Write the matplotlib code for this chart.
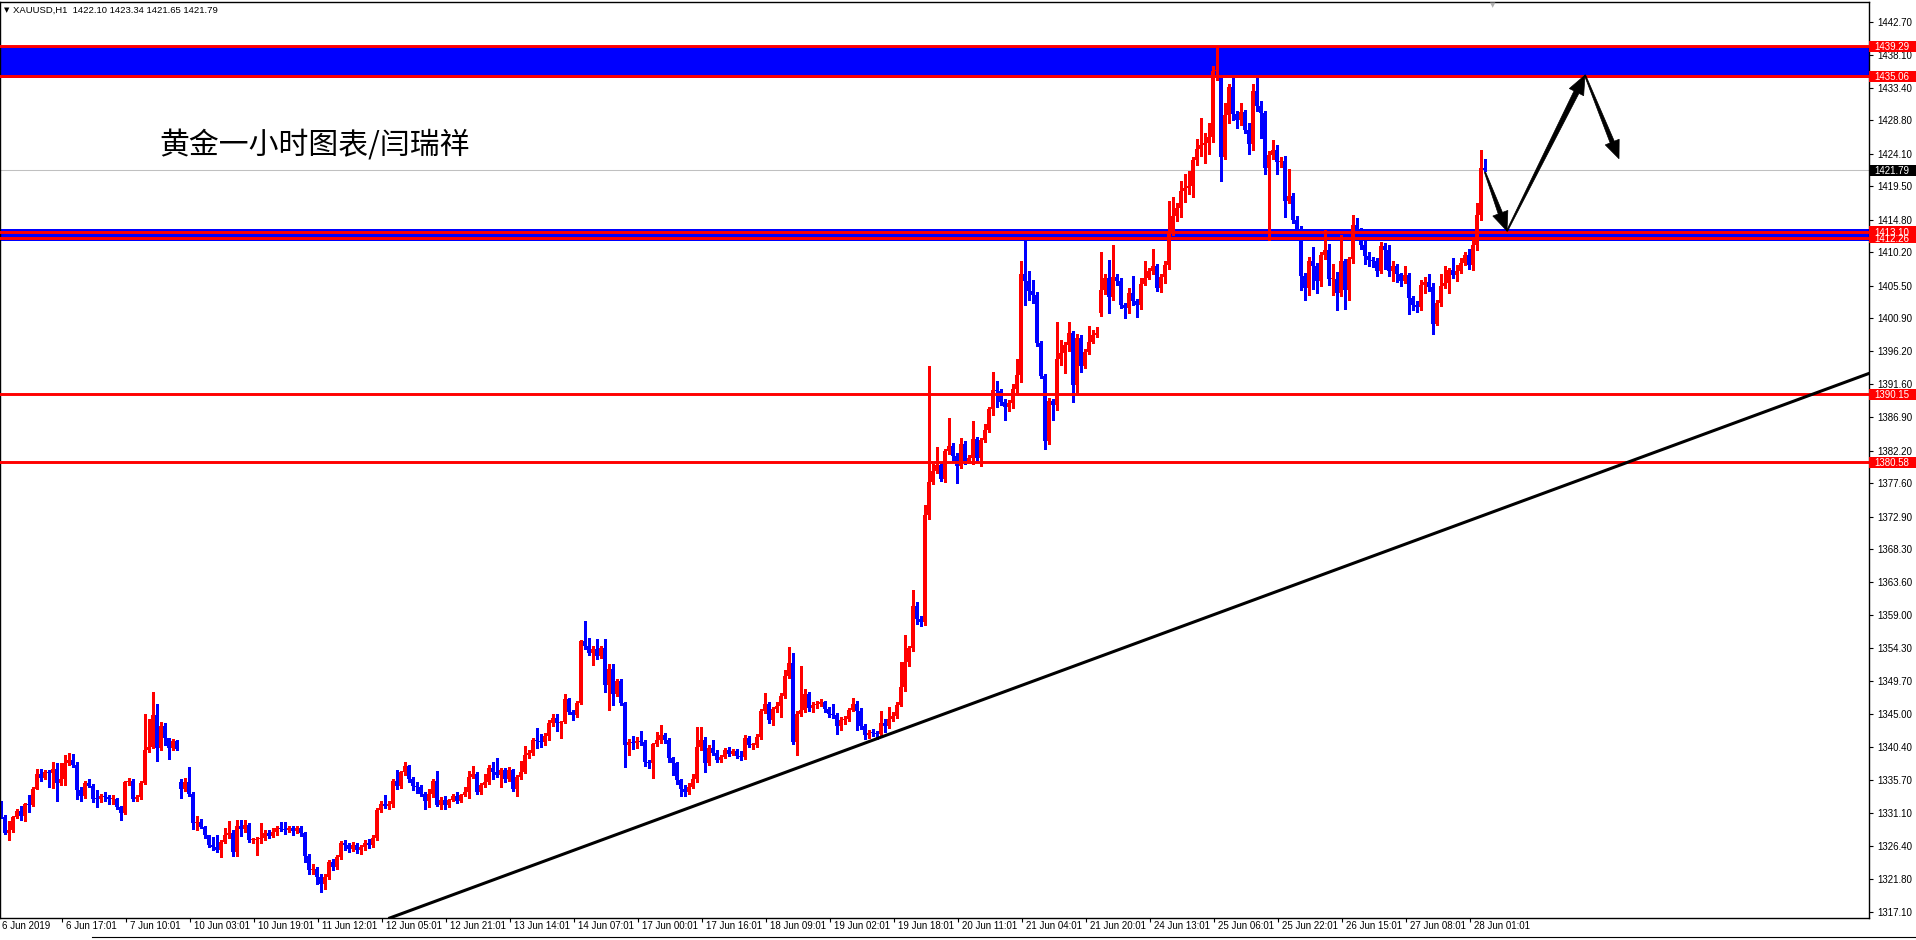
import matplotlib
matplotlib.use("Agg")
import matplotlib.pyplot as plt
from matplotlib.patches import Rectangle, Polygon
from matplotlib.lines import Line2D
import numpy as np

plt.rcParams['font.family'] = ['Liberation Sans', 'DejaVu Sans']

# XAUUSD H1, 6 Jun 2019 01:00 .. 28 Jun 2019 04:00
first_open = 1332.6
gap_opens = {45: 1335.4, 275: 1401.7}  # weekend gaps

closes = [
    1330.5, 1328.3, 1328.7, 1330.5, 1331.4, 1330.6, 1332.4, 1332.2, 1334.5, 1336.6,
    1336.0, 1336.9, 1336.7, 1337.3, 1335.3, 1335.9, 1338.1, 1338.5, 1337.9, 1334.3,
    1333.4, 1335.3, 1334.9, 1333.1, 1333.0, 1333.4, 1333.3, 1333.0, 1333.1, 1331.9,
    1331.1, 1335.4, 1335.6, 1333.0, 1333.3, 1335.3, 1340.0, 1340.4, 1344.9, 1340.2,
    1343.4, 1341.6, 1340.3, 1341.2, 1340.1, 1334.4, 1335.4, 1333.8, 1329.7, 1329.8,
    1329.1, 1327.9, 1326.6, 1326.2, 1325.8, 1327.0, 1328.0, 1328.3, 1325.6, 1329.2,
    1328.8, 1329.4, 1327.2, 1327.2, 1327.4, 1327.5, 1328.3, 1327.8, 1328.4, 1329.0,
    1328.8, 1328.7, 1329.0, 1328.5, 1329.0, 1328.2, 1325.0, 1323.0, 1323.2, 1322.0,
    1321.0, 1322.0, 1324.1, 1323.5, 1324.8, 1326.8, 1326.5, 1326.0, 1326.6, 1325.8,
    1326.2, 1326.9, 1326.5, 1327.5, 1331.5, 1332.4, 1332.1, 1332.3, 1335.6, 1334.9,
    1336.8, 1337.7, 1335.9, 1334.9, 1334.8, 1333.8, 1332.8, 1333.8, 1335.6, 1332.2,
    1332.9, 1332.2, 1332.9, 1333.5, 1332.8, 1333.6, 1334.0, 1336.2, 1336.6, 1334.0,
    1335.0, 1335.5, 1337.4, 1336.8, 1336.5, 1337.1, 1335.8, 1337.1, 1334.5, 1336.1,
    1336.9, 1339.2, 1339.5, 1341.4, 1341.2, 1341.1, 1341.9, 1343.7, 1344.5, 1343.8,
    1343.9, 1347.1, 1345.3, 1344.9, 1346.6, 1355.3, 1354.6, 1353.7, 1354.2, 1353.2,
    1354.4, 1349.2, 1351.4, 1347.9, 1349.7, 1346.6, 1340.7, 1341.1, 1340.9, 1341.2,
    1341.1, 1338.3, 1338.1, 1340.8, 1341.3, 1342.1, 1341.3, 1338.9, 1338.1, 1335.7,
    1334.5, 1334.0, 1334.8, 1335.8, 1340.4, 1341.3, 1338.1, 1340.2, 1339.6, 1338.5,
    1339.0, 1340.0, 1339.4, 1339.8, 1339.1, 1339.0, 1341.6, 1340.7, 1340.7, 1341.8,
    1345.5, 1346.5, 1344.2, 1345.7, 1346.2, 1347.6, 1350.4, 1352.2, 1341.1, 1345.0,
    1345.6, 1347.9, 1345.9, 1346.3, 1346.5, 1346.7, 1345.7, 1345.1, 1344.9, 1343.4,
    1344.2, 1344.4, 1345.6, 1346.4, 1345.5, 1343.4, 1342.1, 1342.4, 1342.3, 1342.2,
    1343.8, 1343.4, 1344.4, 1344.8, 1346.3, 1348.9, 1352.4, 1354.3, 1360.3, 1358.4,
    1358.0, 1373.1, 1377.8, 1379.4, 1380.2, 1378.2, 1382.1, 1382.9, 1381.4, 1380.0,
    1383.2, 1380.8, 1381.2, 1383.8, 1381.1, 1383.7, 1385.1, 1388.1, 1390.7, 1390.6,
    1389.1, 1388.3, 1388.9, 1390.9, 1392.9, 1407.2, 1406.2, 1404.8, 1404.2, 1397.4,
    1392.7, 1383.6, 1389.2, 1388.7, 1395.1, 1396.0, 1397.1, 1398.8, 1391.5, 1398.1,
    1394.2, 1396.1, 1397.6, 1398.5, 1398.8, 1404.9, 1406.5, 1403.9, 1406.7, 1406.2,
    1402.8, 1402.3, 1404.4, 1403.3, 1402.7, 1405.7, 1406.5, 1407.5, 1408.3, 1405.1,
    1406.7, 1408.4, 1413.0, 1415.3, 1416.4, 1418.9, 1419.3, 1419.5, 1423.2, 1424.8,
    1425.3, 1425.6, 1426.4, 1435.8, 1435.9, 1423.7, 1429.6, 1433.5, 1429.7, 1428.8,
    1430.0, 1427.5, 1425.5, 1432.9, 1430.8, 1429.9, 1422.1, 1423.9, 1424.6, 1423.0,
    1423.1, 1417.5, 1418.1, 1414.8, 1413.5, 1406.9, 1405.1, 1409.0, 1408.2, 1406.2,
    1409.8, 1410.5, 1406.4, 1406.4, 1404.5, 1408.9, 1404.9, 1409.2, 1414.0, 1413.5,
    1411.2, 1409.7, 1409.1, 1408.9, 1407.6, 1411.1, 1410.5, 1407.6, 1408.3, 1407.1,
    1406.2, 1407.0, 1403.7, 1402.8, 1402.5, 1405.6, 1406.0, 1405.3, 1400.1, 1403.1,
    1405.4, 1405.8, 1407.7, 1407.0, 1407.5, 1408.7, 1409.8, 1408.4, 1411.2, 1415.5,
    1422.1, 1421.79,
]

highs = [
    1332.8, 1330.8, 1330.0, 1330.7, 1331.7, 1332.0, 1332.5, 1333.6, 1334.7, 1337.3,
    1337.3, 1337.1, 1337.2, 1338.3, 1338.1, 1338.1, 1339.2, 1339.6, 1339.4, 1338.2,
    1334.7, 1335.6, 1335.8, 1335.1, 1334.3, 1333.8, 1334.0, 1333.6, 1333.6, 1333.2,
    1332.1, 1335.6, 1336.0, 1335.8, 1333.6, 1335.6, 1345.0, 1344.3, 1348.2, 1346.5,
    1343.9, 1343.7, 1341.7, 1341.5, 1341.4, 1335.9, 1336.0, 1337.6, 1334.0, 1330.6,
    1330.2, 1329.3, 1328.0, 1327.7, 1328.0, 1327.3, 1328.9, 1330.0, 1328.6, 1330.1,
    1330.1, 1330.1, 1329.6, 1327.6, 1327.7, 1329.6, 1328.6, 1328.6, 1328.9, 1329.3,
    1329.8, 1329.8, 1329.2, 1329.3, 1329.2, 1329.3, 1328.4, 1325.3, 1323.9, 1323.5,
    1322.4, 1322.5, 1324.4, 1324.6, 1325.2, 1327.1, 1327.2, 1326.9, 1327.0, 1326.8,
    1326.5, 1327.3, 1327.4, 1327.9, 1331.8, 1332.7, 1333.6, 1332.8, 1335.8, 1337.1,
    1337.0, 1338.3, 1337.9, 1336.1, 1335.4, 1335.0, 1334.0, 1334.5, 1335.8, 1337.0,
    1333.3, 1333.4, 1333.1, 1333.8, 1334.0, 1333.8, 1334.8, 1337.0, 1337.7, 1336.8,
    1335.3, 1336.6, 1337.9, 1338.3, 1338.9, 1337.4, 1337.4, 1337.6, 1337.3, 1336.4,
    1338.4, 1340.5, 1340.0, 1341.6, 1343.1, 1342.2, 1342.4, 1344.2, 1345.0, 1345.0,
    1344.1, 1347.9, 1347.3, 1345.6, 1346.9, 1355.5, 1358.2, 1355.8, 1354.6, 1355.6,
    1354.7, 1355.6, 1352.1, 1352.1, 1350.0, 1350.0, 1346.8, 1341.5, 1341.9, 1341.8,
    1342.6, 1341.4, 1338.6, 1341.0, 1342.5, 1343.5, 1342.4, 1341.6, 1339.0, 1338.3,
    1335.9, 1335.0, 1335.3, 1336.6, 1343.2, 1343.2, 1341.8, 1340.6, 1341.4, 1340.0,
    1339.3, 1340.3, 1340.4, 1340.1, 1340.1, 1339.8, 1342.1, 1341.9, 1341.0, 1342.2,
    1345.8, 1348.0, 1346.8, 1346.0, 1346.7, 1348.0, 1351.2, 1354.5, 1353.6, 1345.4,
    1351.8, 1348.6, 1348.2, 1346.7, 1346.9, 1347.2, 1346.9, 1346.0, 1346.4, 1345.2,
    1344.6, 1344.8, 1345.9, 1347.3, 1346.9, 1345.9, 1343.6, 1342.8, 1342.9, 1342.7,
    1345.4, 1344.3, 1346.0, 1345.3, 1346.8, 1352.4, 1356.2, 1354.7, 1362.6, 1360.8,
    1358.8, 1374.5, 1394.1, 1380.3, 1382.7, 1380.6, 1382.4, 1386.8, 1383.3, 1381.9,
    1384.0, 1383.5, 1381.6, 1386.4, 1384.1, 1384.0, 1386.0, 1388.4, 1393.3, 1392.1,
    1390.9, 1389.5, 1389.3, 1391.6, 1395.2, 1408.9, 1412.1, 1407.5, 1406.3, 1404.6,
    1397.7, 1393.0, 1389.7, 1389.5, 1400.4, 1397.8, 1397.5, 1400.4, 1399.1, 1398.6,
    1398.5, 1396.6, 1399.8, 1399.3, 1399.6, 1410.2, 1407.2, 1409.1, 1411.2, 1407.2,
    1406.5, 1403.0, 1405.2, 1406.9, 1403.6, 1406.6, 1409.0, 1408.0, 1410.6, 1408.6,
    1407.1, 1409.0, 1417.4, 1418.0, 1417.2, 1420.3, 1421.2, 1421.7, 1423.6, 1426.2,
    1429.2, 1427.0, 1428.5, 1436.5, 1439.3, 1436.0, 1431.2, 1434.0, 1435.0, 1430.2,
    1431.3, 1430.3, 1428.5, 1434.0, 1435.0, 1431.6, 1430.2, 1424.5, 1426.0, 1425.3,
    1423.6, 1423.8, 1422.0, 1418.6, 1415.3, 1413.9, 1407.3, 1409.5, 1410.9, 1408.7,
    1410.3, 1413.3, 1411.3, 1408.6, 1407.4, 1412.7, 1409.3, 1409.6, 1415.5, 1415.1,
    1413.6, 1411.8, 1410.3, 1409.6, 1409.4, 1411.6, 1411.5, 1411.2, 1408.9, 1408.6,
    1407.3, 1408.2, 1407.3, 1404.0, 1403.3, 1406.3, 1406.7, 1407.2, 1405.8, 1403.5,
    1407.2, 1408.3, 1408.0, 1409.4, 1408.4, 1409.4, 1410.2, 1410.6, 1412.4, 1417.2,
    1424.7, 1423.34,
]

lows = [
    1330.3, 1328.1, 1327.2, 1328.4, 1330.3, 1330.1, 1330.0, 1331.2, 1332.0, 1334.4,
    1335.6, 1335.8, 1334.8, 1334.6, 1332.8, 1335.0, 1335.0, 1337.9, 1337.6, 1333.1,
    1332.8, 1333.2, 1334.7, 1332.6, 1331.9, 1332.6, 1332.7, 1332.3, 1332.3, 1331.6,
    1330.1, 1330.9, 1335.0, 1332.7, 1332.8, 1333.0, 1335.1, 1339.7, 1340.2, 1338.4,
    1340.0, 1340.6, 1338.7, 1340.0, 1339.9, 1333.2, 1334.2, 1333.5, 1328.8, 1328.6,
    1328.9, 1327.6, 1326.3, 1325.9, 1325.5, 1324.9, 1326.8, 1327.6, 1325.0, 1325.0,
    1327.8, 1328.4, 1327.0, 1326.8, 1325.2, 1326.9, 1327.3, 1327.5, 1327.7, 1328.0,
    1328.5, 1328.1, 1328.4, 1327.9, 1328.3, 1327.8, 1324.2, 1322.4, 1322.5, 1321.0,
    1319.9, 1320.3, 1321.7, 1323.0, 1323.2, 1324.6, 1325.9, 1325.5, 1325.7, 1325.4,
    1325.3, 1325.9, 1326.1, 1326.2, 1327.3, 1331.2, 1331.8, 1331.6, 1331.9, 1334.5,
    1334.6, 1336.5, 1335.5, 1334.3, 1333.9, 1333.5, 1331.6, 1331.9, 1333.3, 1332.0,
    1331.7, 1331.7, 1331.9, 1332.7, 1332.5, 1332.6, 1333.4, 1333.2, 1336.0, 1333.8,
    1333.8, 1334.8, 1335.2, 1335.9, 1336.2, 1334.8, 1335.5, 1335.6, 1334.2, 1333.5,
    1335.8, 1336.7, 1338.8, 1339.2, 1340.3, 1340.4, 1340.6, 1341.3, 1343.4, 1342.6,
    1341.7, 1343.7, 1345.0, 1344.2, 1344.6, 1346.4, 1354.2, 1353.4, 1351.9, 1352.8,
    1353.0, 1348.2, 1345.6, 1346.3, 1347.6, 1346.3, 1337.6, 1339.2, 1340.1, 1340.3,
    1340.6, 1337.7, 1337.4, 1336.0, 1340.5, 1341.0, 1340.9, 1338.2, 1336.5, 1335.2,
    1333.5, 1333.4, 1333.8, 1334.6, 1335.5, 1339.9, 1336.9, 1337.8, 1339.2, 1338.2,
    1338.3, 1338.8, 1339.1, 1339.2, 1338.8, 1338.6, 1338.7, 1340.4, 1340.1, 1340.4,
    1341.5, 1345.2, 1343.8, 1343.5, 1345.3, 1344.6, 1347.3, 1350.1, 1340.8, 1339.2,
    1344.8, 1345.3, 1345.5, 1345.3, 1345.9, 1346.2, 1345.3, 1344.6, 1344.5, 1342.2,
    1342.8, 1343.6, 1344.0, 1345.4, 1342.8, 1342.9, 1341.5, 1341.6, 1341.9, 1341.5,
    1341.9, 1342.5, 1343.0, 1344.0, 1344.5, 1346.1, 1348.3, 1351.8, 1354.0, 1357.8,
    1357.4, 1357.6, 1372.6, 1377.5, 1379.0, 1377.9, 1377.8, 1381.8, 1380.9, 1377.7,
    1379.7, 1380.3, 1380.4, 1380.3, 1380.6, 1380.1, 1383.4, 1384.8, 1387.3, 1388.3,
    1388.7, 1386.6, 1387.8, 1388.2, 1390.1, 1391.9, 1402.8, 1403.5, 1403.0, 1397.0,
    1392.4, 1382.5, 1383.1, 1386.5, 1387.9, 1394.3, 1393.1, 1396.3, 1389.1, 1390.0,
    1393.3, 1393.9, 1395.8, 1397.4, 1398.2, 1401.2, 1404.3, 1401.6, 1403.5, 1405.6,
    1402.4, 1400.9, 1401.7, 1402.8, 1401.0, 1402.2, 1405.6, 1406.4, 1407.2, 1404.7,
    1404.6, 1405.9, 1407.9, 1412.6, 1414.6, 1415.2, 1417.3, 1418.4, 1418.0, 1422.5,
    1423.8, 1422.8, 1424.1, 1425.8, 1434.5, 1420.3, 1423.3, 1428.5, 1428.9, 1427.8,
    1428.2, 1427.0, 1424.0, 1424.7, 1430.2, 1426.3, 1421.3, 1412.0, 1423.3, 1421.3,
    1422.2, 1415.2, 1417.1, 1414.3, 1412.9, 1404.9, 1403.4, 1404.2, 1405.0, 1404.5,
    1405.5, 1409.3, 1405.6, 1404.2, 1402.0, 1404.0, 1402.2, 1403.5, 1408.7, 1412.8,
    1410.6, 1408.5, 1408.3, 1408.1, 1406.9, 1407.3, 1407.9, 1406.9, 1406.1, 1406.0,
    1405.5, 1405.8, 1401.5, 1402.1, 1401.8, 1402.0, 1404.4, 1404.8, 1398.7, 1399.9,
    1402.6, 1405.1, 1404.5, 1406.5, 1406.2, 1407.3, 1408.4, 1407.9, 1407.7, 1410.5,
    1414.8, 1421.65,
]

date_labels = ["6 Jun 2019", "6 Jun 17:01", "7 Jun 10:01", "10 Jun 03:01", "10 Jun 19:01",
               "11 Jun 12:01", "12 Jun 05:01", "12 Jun 21:01", "13 Jun 14:01", "14 Jun 07:01",
               "17 Jun 00:01", "17 Jun 16:01", "18 Jun 09:01", "19 Jun 02:01", "19 Jun 18:01",
               "20 Jun 11:01", "21 Jun 04:01", "21 Jun 20:01", "24 Jun 13:01", "25 Jun 06:01",
               "25 Jun 22:01", "26 Jun 15:01", "27 Jun 08:01", "28 Jun 01:01"]
price_ticks = [1442.70, 1438.10, 1433.40, 1428.80, 1424.10, 1419.50, 1414.80, 1410.20,
               1405.50, 1400.90, 1396.20, 1391.60, 1386.90, 1382.20, 1377.60, 1372.90,
               1368.30, 1363.60, 1359.00, 1354.30, 1349.70, 1345.00, 1340.40, 1335.70,
               1331.10, 1326.40, 1321.80, 1317.10]

# drawn objects
top_zone = (1434.85, 1439.29)
mid_zone = (1411.8, 1413.5)
red_levels = [1439.29, 1435.06, 1413.10, 1412.26, 1390.15, 1380.58]
last_price = 1421.79
trend_x = [191.75, 466.5]
trend_y = [1335.9, 1393.0]
arrow_path = [(371.0, 1421.5), (376.5, 1413.2), (396.0, 1435.2), (404.5, 1423.4)]

o = np.array([first_open] + closes[:-1])
for k, v in gap_opens.items():
    o[k] = v
c = np.array(closes)
h = np.array(highs)
l = np.array(lows)
x = np.arange(len(c))

fig = plt.figure(figsize=(19.16, 9.40), dpi=100)
# plot area: 2..918 px from the top, 0..1869 px from the left
ax = fig.add_axes([0, 22 / 940, 1869 / 1916, 916 / 940])
ax.set_xlim(-0.25, 467)
ax.set_ylim(1316.25, 1445.52)

# zones behind the candles
ax.axhspan(*top_zone, color='#0000FF', lw=0, zorder=1)
ax.axhspan(*mid_zone, color='#0000FF', lw=0, zorder=1)
ax.axhline(last_price, color='#C0C0C0', lw=0.75, zorder=0.8)

col = np.where(c >= o, '#FF0000', '#0000FF')
ax.vlines(x, np.minimum(l, np.minimum(o, c)), np.maximum(h, np.maximum(o, c)),
          colors=col, linewidth=0.75, antialiased=False, zorder=2)
body_lo = np.minimum(o, c)
body_h = np.maximum(np.abs(c - o), 0.14)
ax.bar(x, body_h, bottom=body_lo, width=0.8, color=col, linewidth=0,
       antialiased=False, zorder=2.1)

for p in red_levels:
    ax.axhline(p, color='#FF0000', lw=2.1, zorder=3)

ax.axline((trend_x[0], trend_y[0]), (trend_x[1], trend_y[1]), color='black', lw=2.2, zorder=4)


def arrow_poly(p0, p1, w0, w1, hl, hw):
    a = ax.transData.transform(p0)
    b = ax.transData.transform(p1)
    d = (b - a) / np.hypot(*(b - a))
    n = np.array([-d[1], d[0]])
    base = b - d * hl
    pts = [a + n * w0 / 2, base + n * w1 / 2, base + n * hw / 2, b,
           base - n * hw / 2, base - n * w1 / 2, a - n * w0 / 2]
    pts = ax.transData.inverted().transform(np.array(pts))
    ax.add_patch(Polygon(pts, closed=True, fc='black', ec='black', lw=0.5, zorder=5))


arrow_poly(arrow_path[0], arrow_path[1], 1.2, 4.5, 19, 16)
arrow_poly(arrow_path[1], arrow_path[2], 1.2, 5.5, 19, 16)
arrow_poly(arrow_path[2], arrow_path[3], 1.2, 4.5, 18, 15)

# axes frame and ticks
for s in ax.spines.values():
    s.set_color('black')
    s.set_linewidth(1.0)
ax.yaxis.tick_right()
ax.set_yticks(price_ticks)
ax.set_yticklabels([f"{v:.2f}" for v in price_ticks])
ax.tick_params(axis='y', direction='out', length=3, width=0.8, pad=3, labelsize=7,
               colors='black')
ax.set_xticks([16 * k - 0.75 for k in range(1, len(date_labels))])
ax.set_xticklabels([])
ax.tick_params(axis='x', direction='out', length=3, width=0.8)
xt = ax.get_xaxis_transform()
for k, lab in enumerate(date_labels):
    ax.text(16 * k + 0.25, -8 / 916, lab, transform=xt, ha='left', va='center',
            fontsize=7, clip_on=False)

# price labels on the right scale (1413.10 is partly covered by 1412.26, as in MT4)
yt = ax.get_yaxis_transform()
box_w = 47 / 1869
box_h = 11 / 7.086
for p, fc in [(1439.29, '#FF0000'), (1435.06, '#FF0000'), (last_price, 'black'),
              (1413.10, '#FF0000'), (1412.26, '#FF0000'), (1390.15, '#FF0000'),
              (1380.58, '#FF0000')]:
    ax.add_patch(Rectangle((1.0, p - box_h / 2), box_w, box_h, transform=yt,
                           fc=fc, ec='none', clip_on=False, zorder=6))
    ax.text(1.0 + 5 / 1869, p, f"{p:.2f}", transform=yt, color='white', fontsize=7,
            ha='left', va='center_baseline', clip_on=False, zorder=7)

# header, title and small decorations
fig.text(4 / 1916, 1 - 10 / 940, "▼", fontsize=5, family=['DejaVu Sans'], va='center')
fig.text(13 / 1916, 1 - 10 / 940, "XAUUSD,H1  1422.10 1423.34 1421.65 1421.79",
         fontsize=6.8, va='center')
fig.text(1493 / 1916, 1 - 5 / 940, "▼", fontsize=5, color='#B0B0B0',
         family=['DejaVu Sans'], ha='center', va='center')
fig.text(159 / 1916, 1 - 146 / 940, "黄金一小时图表/闫瑞祥", fontsize=21.5,
         family=['Noto Sans CJK SC', 'DejaVu Sans'], ha='left', va='center')
fig.add_artist(Line2D([92 / 1916, 1], [3 / 940, 3 / 940], color='black', lw=0.8))

fig.savefig('out.png', dpi=100)
